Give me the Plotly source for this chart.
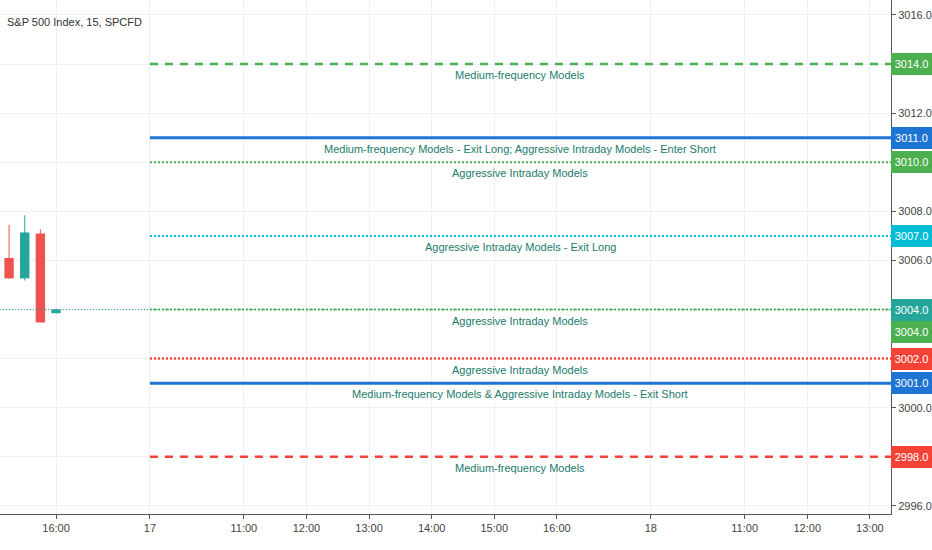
import plotly.graph_objects as go

# 15-minute bars, bar index 0 = open of day 17
candle_x = [-9, -8, -7, -6]
candle_open = [3006.1, 3005.27, 3007.1, 3003.85]
candle_high = [3007.45, 3007.84, 3007.27, 3004.04]
candle_low = [3005.25, 3005.18, 3003.47, 3003.84]
candle_close = [3005.27, 3007.14, 3003.47, 3004.0]
last_price = 3004.0

level_prices = [3014, 3011, 3010, 3007, 3004, 3002, 3001, 2998]
level_colors = ["#4caf50", "#1e74d2", "#4caf50", "#00bcd4", "#4caf50", "#f44336", "#1e74d2", "#f44336"]
level_dash = ["8px,7px", "solid", "2px,2px", "2px,2px", "2px,2px", "2px,2px", "solid", "8px,7px"]
level_width = [2.5, 3, 2, 2, 2, 2.5, 3, 2.5]
level_text = [
    "Medium-frequency Models",
    "Medium-frequency Models - Exit Long; Aggressive Intraday Models - Enter Short",
    "Aggressive Intraday Models",
    "Aggressive Intraday Models - Exit Long",
    "Aggressive Intraday Models",
    "Aggressive Intraday Models",
    "Medium-frequency Models & Aggressive Intraday Models - Exit Short",
    "Medium-frequency Models",
]
level_start = 0

x_tickvals = [-6, 0, 6, 10, 14, 18, 22, 26, 32, 38, 42, 46]
x_ticktext = ["16:00", "17", "11:00", "12:00", "13:00", "14:00", "15:00", "16:00", "18", "11:00", "12:00", "13:00"]
y_tickvals = [2996, 2998, 3000, 3002, 3004, 3006, 3008, 3010, 3012, 3014, 3016]
x_range = [-9.58, 47.35]
y_range = [2995.67, 3016.61]

UP = "#26a69a"
DOWN = "#ef5350"
FONT = "Liberation Sans, Arial, sans-serif"

fig = go.Figure()

# last price line
fig.add_trace(go.Scatter(x=x_range, y=[last_price, last_price], mode="lines",
                         line=dict(color=UP, width=1, dash="1px,2px"), hoverinfo="skip"))

# candles: wicks + bodies
for i in range(len(candle_x)):
    c = UP if candle_close[i] >= candle_open[i] else DOWN
    fig.add_trace(go.Scatter(x=[candle_x[i], candle_x[i]], y=[candle_low[i], candle_high[i]],
                             mode="lines", line=dict(color=c, width=1), hoverinfo="skip"))
    fig.add_trace(go.Bar(x=[candle_x[i]], y=[abs(candle_close[i] - candle_open[i])],
                         base=[min(candle_open[i], candle_close[i])], width=0.6,
                         marker=dict(color=c, line=dict(width=0)), hoverinfo="skip"))

# horizontal levels
mid = (level_start + x_range[1]) / 2
for p, c, d, w, t in zip(level_prices, level_colors, level_dash, level_width, level_text):
    fig.add_trace(go.Scatter(x=[level_start, x_range[1] + 1], y=[p, p], mode="lines",
                             line=dict(color=c, width=w, dash=d), hoverinfo="skip"))
    fig.add_annotation(x=mid, y=p, text=t, showarrow=False, yanchor="top", yshift=-3,
                       font=dict(family=FONT, size=11, color="#217a6c"))

# price labels on right axis
boxes = [(last_price, UP, 0)] + [(p, c, 0) for p, c in zip(level_prices, level_colors)]
for p, c, s in boxes:
    if p == last_price and c != UP:
        s = -22
    fig.add_annotation(xref="paper", x=1, xanchor="left", y=p, yshift=s, text="%.1f" % p,
                       showarrow=False, bgcolor=c, width=37, height=18, borderpad=1,
                       borderwidth=1, bordercolor=c,
                       font=dict(family=FONT, size=11, color="white"))

fig.add_annotation(xref="paper", yref="paper", x=0.006, y=1 - 22 / 514, xanchor="left", yanchor="middle",
                   text="S&P 500 Index, 15, SPCFD", showarrow=False,
                   font=dict(family=FONT, size=11, color="#333333"))

# tick labels hidden where a price box covers them
y_ticktext = ["" if v in level_prices else "%.1f" % v for v in y_tickvals]

fig.update_layout(
    width=932, height=550,
    margin=dict(l=0, r=41, t=0, b=36),
    plot_bgcolor="white", paper_bgcolor="white",
    showlegend=False, barmode="overlay",
    xaxis=dict(range=x_range, tickvals=x_tickvals, ticktext=x_ticktext,
               showgrid=True, gridcolor="#eef0f5", zeroline=False, automargin=False,
               showline=True, linecolor="#555555", linewidth=1,
               ticks="outside", ticklen=4, tickcolor="#555555",
               tickfont=dict(family=FONT, size=11, color="#444444")),
    yaxis=dict(range=y_range, side="right", tickvals=y_tickvals, ticktext=y_ticktext,
               showgrid=True, gridcolor="#eef0f5", zeroline=False, automargin=False,
               showline=True, linecolor="#555555", linewidth=1,
               ticks="outside", ticklen=4, tickcolor="#555555",
               tickfont=dict(family=FONT, size=11, color="#444444")),
)

fig.write_html("out.html", config={"displayModeBar": False},
               post_script="document.body.style.margin='0';")
